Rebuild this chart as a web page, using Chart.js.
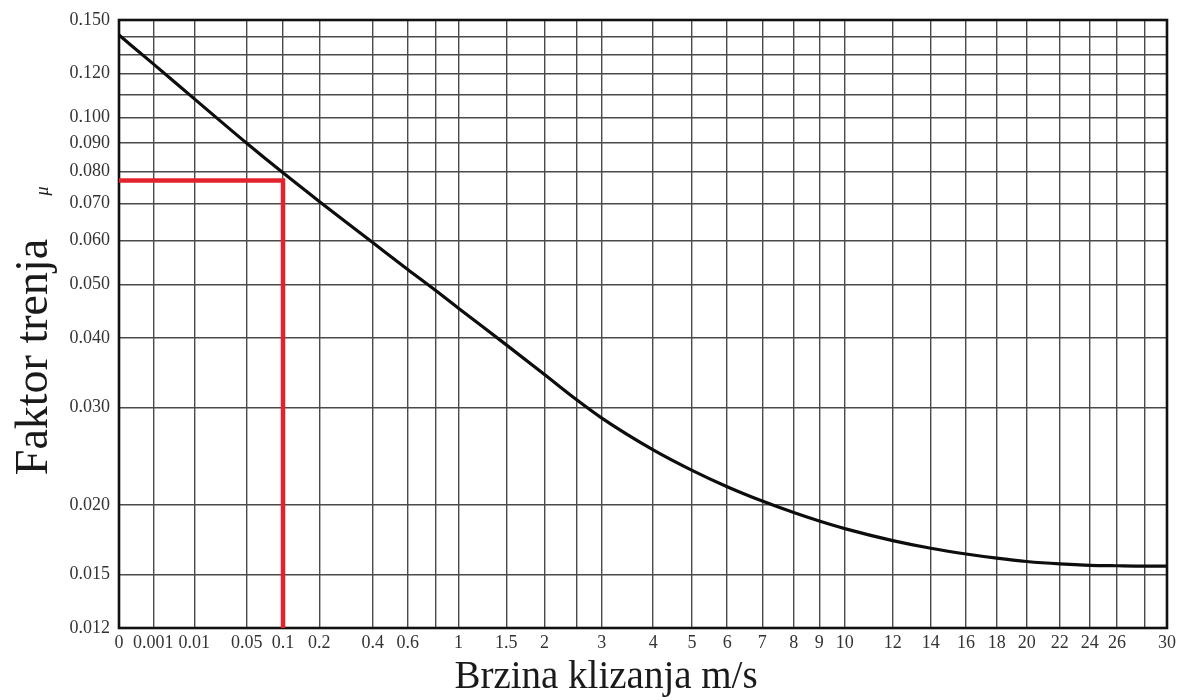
<!DOCTYPE html>
<html>
<head>
<meta charset="utf-8">
<title>Faktor trenja</title>
<script src="https://cdn.jsdelivr.net/npm/chart.js@4.4.1/dist/chart.umd.min.js"></script>
<style>
  html, body { margin: 0; padding: 0; background: #fff; }
  canvas { display: block; }
</style>
</head>
<body>
<canvas id="chart" width="1184" height="700"></canvas>
<script>
// Friction factor curve: sliding speed (m/s) against friction factor
const speeds   = [0, 0.001, 0.01, 0.05, 0.1, 0.2, 0.4, 0.6, 0.8, 1, 1.5, 2, 2.5, 3, 4, 5, 6, 7, 8, 9, 10,
                  12, 14, 16, 18, 20, 22, 24, 26, 28, 30];
const friction = [0.1409, 0.1250, 0.1081, 0.0899, 0.0795, 0.0706, 0.0595, 0.0532, 0.0487, 0.0453, 0.0389,
                  0.0344, 0.0310, 0.0287, 0.02515, 0.0231, 0.02158, 0.02033, 0.01938, 0.01871, 0.01813,
                  0.01725, 0.01671, 0.01632, 0.01604, 0.01582, 0.01566, 0.01557, 0.01554, 0.01552, 0.01552];

// Operating point
const markSpeed = 0.1;
const markFriction = 0.077;

// Grid rulings and their labels
const speedTicks = [0, 0.001, 0.01, 0.05, 0.1, 0.2, 0.4, 0.6, 0.8, 1, 1.5, 2, 2.5, 3, 4, 5, 6, 7, 8, 9, 10,
                    12, 14, 16, 18, 20, 22, 24, 26, 28, 30];
const speedTickLabels = ['0', '0.001', '0.01', '0.05', '0.1', '0.2', '0.4', '0.6', '', '1', '1.5', '2', '',
                         '3', '4', '5', '6', '7', '8', '9', '10', '12', '14', '16', '18', '20', '22', '24',
                         '26', '', '30'];
const frictionTicks = [0.012, 0.015, 0.020, 0.030, 0.040, 0.050, 0.060, 0.070, 0.080, 0.090, 0.100,
                       0.110, 0.120, 0.130, 0.140, 0.150];
const frictionTickLabels = ['0.012', '0.015', '0.020', '0.030', '0.040', '0.050', '0.060', '0.070', '0.080',
                            '0.090', '0.100', '', '0.120', '', '', '0.150'];

// The speed axis of this nomogram is ruled non-uniformly: every ruling in speedTicks
// sits at a fixed fraction of the axis length, and values in between are interpolated.
const speedRuling = [0, 0.0327, 0.0719, 0.1219, 0.1565, 0.1911, 0.2421, 0.2755, 0.3025, 0.3239, 0.3696,
                     0.4060, 0.4364, 0.4607, 0.5097, 0.5468, 0.5803, 0.6138, 0.6438, 0.6682, 0.6925,
                     0.7383, 0.7746, 0.8082, 0.8375, 0.8661, 0.8977, 0.9262, 0.9523, 0.9787, 1];

function rulingFraction(v) {
  const n = speedTicks.length;
  if (v <= speedTicks[0]) return speedRuling[0];
  if (v >= speedTicks[n - 1]) return speedRuling[n - 1];
  for (let i = 1; i < n; i++) {
    if (v <= speedTicks[i]) {
      const t = (v - speedTicks[i - 1]) / (speedTicks[i] - speedTicks[i - 1]);
      return speedRuling[i - 1] + t * (speedRuling[i] - speedRuling[i - 1]);
    }
  }
  return 1;
}

function rulingValue(f) {
  const n = speedRuling.length;
  if (f <= speedRuling[0]) return speedTicks[0];
  if (f >= speedRuling[n - 1]) return speedTicks[n - 1];
  for (let i = 1; i < n; i++) {
    if (f <= speedRuling[i]) {
      const t = (f - speedRuling[i - 1]) / (speedRuling[i] - speedRuling[i - 1]);
      return speedTicks[i - 1] + t * (speedTicks[i] - speedTicks[i - 1]);
    }
  }
  return speedTicks[n - 1];
}

class RuledScale extends Chart.LinearScale {
  static id = 'ruled';
  getPixelForValue(value) {
    if (value === null || value === undefined || isNaN(value)) return NaN;
    return this.getPixelForDecimal(rulingFraction(value));
  }
  getValueForPixel(pixel) {
    return rulingValue(this.getDecimalForPixel(pixel));
  }
}
Chart.register(RuledScale);

const serif = '"Liberation Serif", "Times New Roman", "DejaVu Serif", serif';

// Frame around the plot and the hand-placed axis titles
const sheetPlugin = {
  id: 'sheet',
  beforeDatasetsDraw(chart) {
    const { ctx, chartArea: a } = chart;
    ctx.save();
    ctx.strokeStyle = '#111';
    ctx.lineWidth = 2.6;
    ctx.strokeRect(a.left, a.top, a.right - a.left, a.bottom - a.top);
    ctx.restore();
  },
  afterDraw(chart) {
    const { ctx, chartArea: a } = chart;
    ctx.save();
    ctx.fillStyle = '#1a1a1a';
    ctx.textAlign = 'center';
    ctx.textBaseline = 'middle';

    // vertical title
    ctx.save();
    ctx.translate(a.left - 84, a.top + 337);
    ctx.rotate(-Math.PI / 2);
    ctx.font = '46px ' + serif;
    ctx.fillText('Faktor trenja', 0, 0);
    ctx.restore();

    // symbol next to the vertical title
    ctx.save();
    ctx.translate(a.left - 76, a.top + 171);
    ctx.rotate(-Math.PI / 2);
    ctx.font = 'italic 18px ' + serif;
    ctx.fillText('\u03bc', 0, 0);
    ctx.restore();

    // horizontal title
    ctx.font = '39px ' + serif;
    ctx.fillText('Brzina klizanja m/s', 606, a.bottom + 50);
    ctx.restore();
  }
};

const curvePoints = speeds.map((s, i) => ({ x: s, y: friction[i] }));
const markPoints = [
  { x: 0, y: markFriction },
  { x: markSpeed, y: markFriction },
  { x: markSpeed, y: frictionTicks[0] }
];

new Chart(document.getElementById('chart'), {
  type: 'line',
  data: {
    datasets: [
      {
        data: markPoints,
        borderColor: '#e3232c',
        borderWidth: 4.5,
        borderJoinStyle: 'miter',
        pointRadius: 0,
        tension: 0,
        clip: 4
      },
      {
        data: curvePoints,
        borderColor: '#0d0d0d',
        borderWidth: 3.2,
        pointRadius: 0,
        cubicInterpolationMode: 'monotone',
        clip: 4
      }
    ]
  },
  options: {
    responsive: false,
    animation: false,
    devicePixelRatio: 1,
    layout: { padding: { top: 20, right: 17, left: 0, bottom: 0 } },
    plugins: {
      legend: { display: false },
      tooltip: { enabled: false }
    },
    scales: {
      x: {
        type: 'ruled',
        min: 0,
        max: 30,
        afterBuildTicks: (scale) => { scale.ticks = speedTicks.map(v => ({ value: v })); },
        afterFit: (scale) => { scale.height = 72; },
        grid: { color: '#4a4a4a', lineWidth: 1.4, drawTicks: false },
        border: { display: false },
        ticks: {
          autoSkip: false,
          maxRotation: 0,
          minRotation: 0,
          padding: 4,
          color: '#333',
          font: { family: serif, size: 18 },
          callback: (value, index) => speedTickLabels[index]
        }
      },
      y: {
        type: 'logarithmic',
        min: frictionTicks[0],
        max: frictionTicks[frictionTicks.length - 1],
        afterBuildTicks: (scale) => { scale.ticks = frictionTicks.map(v => ({ value: v })); },
        afterFit: (scale) => { scale.width = 119; },
        grid: { color: '#4a4a4a', lineWidth: 1.4, drawTicks: false },
        border: { display: false },
        ticks: {
          autoSkip: false,
          padding: 9,
          color: '#333',
          font: { family: serif, size: 18 },
          callback: (value, index) => frictionTickLabels[index]
        }
      }
    }
  },
  plugins: [sheetPlugin]
});
</script>
</body>
</html>
